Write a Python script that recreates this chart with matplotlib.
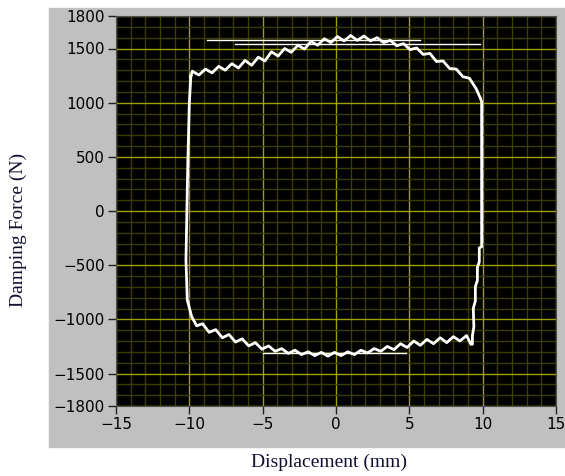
import matplotlib as mpl
mpl.use('Agg')
import matplotlib.pyplot as plt
from matplotlib.patches import Rectangle

# upper branch (left -> right)
upper_x = [-9.9, -9.8, -9.35, -8.9, -8.45, -8.0, -7.55, -7.1, -6.65, -6.2, -5.75,
           -5.3, -4.85, -4.4, -3.95, -3.5, -3.05, -2.6, -2.15, -1.7, -1.25, -0.8,
           -0.35, 0.1, 0.55, 1.0, 1.45, 1.9, 2.35, 2.8, 3.25, 3.7, 4.15, 4.6, 5.05,
           5.5, 5.95, 6.4, 6.85, 7.3, 7.75, 8.2, 8.65, 9.1, 9.55, 9.85]
upper_y = [1240, 1290, 1255, 1310, 1275, 1335, 1300, 1360, 1320, 1390, 1345,
           1420, 1385, 1470, 1430, 1500, 1465, 1530, 1495, 1565, 1530, 1590,
           1555, 1610, 1570, 1620, 1575, 1615, 1570, 1600, 1555, 1575, 1525, 1545, 1490,
           1505, 1445, 1455, 1380, 1385, 1315, 1310, 1240, 1225, 1130, 1040]

# right side going down
right_x = [9.93, 9.93, 9.77, 9.77, 9.64, 9.64, 9.5, 9.5, 9.36, 9.4, 9.3, 9.3]
right_y = [1010, -330, -340, -470, -520, -640, -700, -830, -900, -1070, -1150, -1230]

# lower branch (right -> left)
lower_x = [9.2, 8.9, 8.45, 8.0, 7.55, 7.1, 6.65, 6.2, 5.75, 5.3, 4.85, 4.4, 3.95,
           3.5, 3.05, 2.6, 2.15, 1.7, 1.25, 0.8, 0.35, -0.1, -0.55, -1.0, -1.45,
           -1.9, -2.35, -2.8, -3.25, -3.7, -4.15, -4.6, -5.05, -5.5, -5.95, -6.4,
           -6.85, -7.3, -7.75, -8.2, -8.65, -9.1, -9.5, -9.84]
lower_y = [-1230, -1150, -1200, -1160, -1215, -1170, -1225, -1185, -1240, -1200,
           -1260, -1225, -1280, -1250, -1295, -1270, -1310, -1285, -1325, -1300,
           -1335, -1305, -1340, -1305, -1335, -1300, -1325, -1285, -1315, -1270,
           -1295, -1245, -1275, -1215, -1245, -1180, -1210, -1140, -1170, -1095,
           -1120, -1040, -1060, -976]

# left side going up
left_x = [-10.14, -10.23, -10.1, -10.0, -9.9]
left_y = [-822, -452, 470, 996, 1240]

# straight flat segments
flat_x0 = [-8.8, -6.9, -5.0]
flat_x1 = [5.7, 9.8, 4.8]
flat_y = [1580, 1540, -1315]

xticks = [-15, -10, -5, 0, 5, 10, 15]
yticks = [-1800, -1500, -1000, -500, 0, 500, 1000, 1500, 1800]

loop_x = upper_x + right_x + lower_x + left_x
loop_y = upper_y + right_y + lower_y + left_y

fig = plt.figure(figsize=(5.65, 4.76), dpi=100)
fig.patches.append(Rectangle((49 / 565, 29 / 476), 516 / 565, 439 / 476,
                             transform=fig.transFigure, color='#c0c0c0', zorder=-5))
ax = fig.add_axes([116 / 565, 70 / 476, 440 / 565, 390 / 476])
ax.set_facecolor('black')

ax.plot(loop_x, loop_y, color='white', lw=2.0, zorder=3)
for x0, x1, y in zip(flat_x0, flat_x1, flat_y):
    ax.plot([x0, x1], [y, y], color='white', lw=1.0, zorder=3)

ax.set_xlim(-15, 15)
ax.set_ylim(-1800, 1800)
ax.set_xticks(xticks)
ax.set_yticks(yticks)
ax.set_xticks(range(-15, 16), minor=True)
ax.set_yticks(range(-1800, 1801, 100), minor=True)
ax.grid(which='major', color='#a0a000', lw=1.0, zorder=1)
ax.grid(which='minor', color='#3c3c00', lw=1.0, zorder=0.5)
ax.set_axisbelow(True)
ax.tick_params(which='major', direction='out', length=6, width=1, color='#202020',
               labelsize=11, pad=2)
ax.tick_params(which='minor', length=0)
for sp in ax.spines.values():
    sp.set_color('#505050')

fig.text(329 / 565, 14 / 476, 'Displacement (mm)', family='Liberation Serif',
         fontsize=14, ha='center', va='center', color='#101030')
fig.text(18 / 565, 246 / 476, 'Damping Force (N)', family='Liberation Serif',
         fontsize=14, ha='center', va='center', rotation=90, color='#101030')

plt.savefig('out.png', dpi=100)
